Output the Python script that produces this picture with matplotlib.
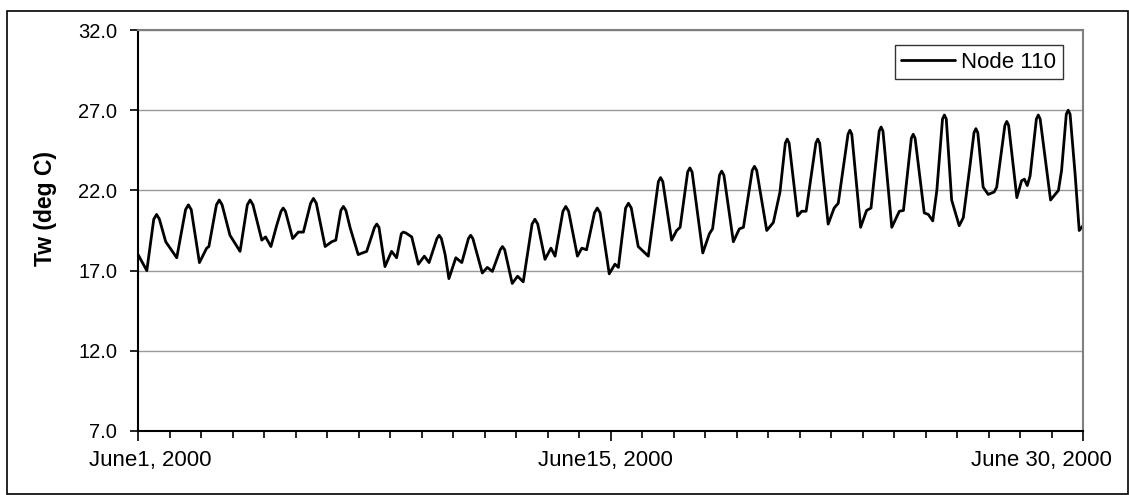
import matplotlib.pyplot as plt
from matplotlib.patches import Rectangle
from matplotlib.transforms import ScaledTranslation

# water temperature at Node 110 as (day since June 1, deg C)
days = [0.00, 0.28, 0.50, 0.59, 0.68, 0.88, 1.23, 1.51, 1.60, 1.69,
        1.95, 2.18, 2.25, 2.49, 2.58, 2.67, 2.92, 3.24, 3.47, 3.56,
        3.65, 3.93, 4.05, 4.22, 4.40, 4.54, 4.61, 4.68, 4.91, 5.09,
        5.25, 5.48, 5.57, 5.66, 5.94, 6.15, 6.28, 6.44, 6.52, 6.60,
        6.73, 6.99, 7.26, 7.51, 7.58, 7.65, 7.84, 8.05, 8.21, 8.36,
        8.42, 8.50, 8.69, 8.90, 9.09, 9.24, 9.49, 9.56, 9.63, 9.75,
        9.87, 10.09, 10.28, 10.49, 10.56, 10.63, 10.93, 11.09, 11.25, 11.50,
        11.57, 11.64, 11.88, 12.05, 12.23, 12.51, 12.60, 12.69, 12.92, 13.11,
        13.24, 13.49, 13.58, 13.67, 13.95, 14.09, 14.24, 14.49, 14.58, 14.67,
        14.96, 15.14, 15.25, 15.48, 15.57, 15.66, 15.88, 16.20, 16.52, 16.59,
        16.66, 16.94, 17.10, 17.21, 17.45, 17.52, 17.59, 17.93, 18.14, 18.24,
        18.46, 18.53, 18.60, 18.90, 19.09, 19.22, 19.50, 19.57, 19.64, 19.96,
        20.17, 20.38, 20.55, 20.61, 20.67, 20.94, 21.07, 21.21, 21.52, 21.58,
        21.64, 21.91, 22.10, 22.23, 22.54, 22.60, 22.66, 22.94, 23.13, 23.27,
        23.53, 23.59, 23.65, 23.93, 24.17, 24.30, 24.55, 24.61, 24.67, 24.96,
        25.09, 25.23, 25.36, 25.54, 25.60, 25.66, 25.83, 26.07, 26.20, 26.41,
        26.54, 26.60, 26.66, 26.83, 26.99, 27.18, 27.26, 27.52, 27.58, 27.64,
        27.90, 28.05, 28.14, 28.23, 28.32, 28.52, 28.58, 28.64, 28.97, 29.22,
        29.32, 29.47, 29.53, 29.59, 29.75, 29.88, 29.96, 30.00]
temp = [18.0, 17.0, 20.2, 20.5, 20.2, 18.8, 17.8, 20.8, 21.1, 20.8,
        17.5, 18.4, 18.5, 21.1, 21.4, 21.1, 19.2, 18.2, 21.1, 21.4,
        21.1, 18.9, 19.1, 18.5, 19.8, 20.7, 20.9, 20.7, 19.0, 19.4,
        19.4, 21.2, 21.5, 21.2, 18.5, 18.8, 18.9, 20.75, 21.0, 20.75,
        19.7, 18.0, 18.2, 19.7, 19.9, 19.7, 17.25, 18.2, 17.8, 19.3,
        19.4, 19.35, 19.1, 17.4, 17.9, 17.5, 19.0, 19.2, 19.0, 18.0,
        16.5, 17.8, 17.5, 19.0, 19.2, 19.0, 16.85, 17.2, 16.95, 18.3,
        18.5, 18.3, 16.2, 16.65, 16.3, 19.9, 20.2, 19.9, 17.7, 18.4,
        17.9, 20.7, 21.0, 20.7, 17.9, 18.4, 18.3, 20.6, 20.9, 20.6,
        16.8, 17.4, 17.2, 20.9, 21.2, 20.9, 18.5, 17.9, 22.55, 22.8,
        22.55, 18.9, 19.5, 19.7, 23.15, 23.4, 23.15, 18.1, 19.3, 19.6,
        22.95, 23.2, 22.95, 18.8, 19.6, 19.7, 23.25, 23.5, 23.25, 19.5,
        20.0, 21.9, 24.95, 25.2, 24.95, 20.4, 20.7, 20.7, 24.95, 25.2,
        24.95, 19.9, 20.9, 21.2, 25.5, 25.75, 25.5, 19.7, 20.75, 20.9,
        25.7, 25.95, 25.7, 19.7, 20.7, 20.75, 25.25, 25.5, 25.25, 20.6,
        20.5, 20.1, 22.0, 26.45, 26.7, 26.45, 21.4, 19.8, 20.3, 23.5,
        25.6, 25.85, 25.6, 22.2, 21.75, 21.9, 22.2, 26.05, 26.3, 26.05,
        21.55, 22.6, 22.7, 22.3, 22.9, 26.45, 26.7, 26.45, 21.4, 22.0,
        23.25, 26.75, 27.0, 26.75, 23.0, 19.5, 19.7, 19.8]

y_ticks = [7.0, 12.0, 17.0, 22.0, 27.0, 32.0]
x_major = [0, 15, 30]
x_labels = ['June1, 2000', 'June15, 2000', 'June 30, 2000']

plt.rcParams['font.family'] = ['Liberation Sans', 'DejaVu Sans']

fig = plt.figure(figsize=(11.29, 4.95), dpi=100)
ax = fig.add_axes([138/1129, 1 - 431/495, (1083-138)/1129, (431-30)/495])

ax.plot(days, temp, color='black', lw=2, label='Node 110',
        solid_joinstyle='round', solid_capstyle='round')

ax.set_xlim(0, 30)
ax.set_ylim(7, 32)
ax.set_yticks(y_ticks)
ax.set_yticklabels(['%.1f' % v for v in y_ticks], fontsize=14.5)
ax.set_xticks(x_major)
ax.set_xticklabels(x_labels, fontsize=16)
ax.set_xticks(range(0, 31), minor=True)
ax.tick_params(axis='x', which='major', length=7, width=1.2, pad=7)
ax.tick_params(axis='x', which='minor', length=5, width=1.2)
ax.tick_params(axis='y', length=6, width=1.2, pad=9)
ax.yaxis.grid(True, color='#999999', lw=1)
ax.set_axisbelow(True)

# Excel-like label placement: first shifted right, last right-aligned
shifts = [12.5, -5, 29]
for lab, dx in zip(ax.get_xticklabels(), shifts):
    lab.set_transform(lab.get_transform() + ScaledTranslation(dx/100, 0, fig.dpi_scale_trans))
ax.get_xticklabels()[-1].set_ha('right')

for s in ['left', 'bottom']:
    ax.spines[s].set_color('black')
    ax.spines[s].set_linewidth(1.5)
for s in ['top', 'right']:
    ax.spines[s].set_color('#808080')
    ax.spines[s].set_linewidth(1.5)

ax.set_ylabel('Tw (deg C)', fontsize=16.5, fontweight='bold')
ax.yaxis.set_label_coords((57-138)/945, (431-208)/401)

leg = ax.legend(loc='upper right', bbox_to_anchor=((1063-138)/945, (431-45)/401),
                fontsize=16, frameon=True, fancybox=False, handlelength=2.4,
                borderpad=0.3, handletextpad=0.3, borderaxespad=0)
leg.get_frame().set_edgecolor('black')
leg.get_frame().set_linewidth(1)

# outer chart border
fig.patches.append(Rectangle((7/1129, 1/495), (1128-7)/1129, (494-11)/495,
                             transform=fig.transFigure, fill=False,
                             edgecolor='black', lw=1.2))

fig.savefig('out.png', dpi=100)
